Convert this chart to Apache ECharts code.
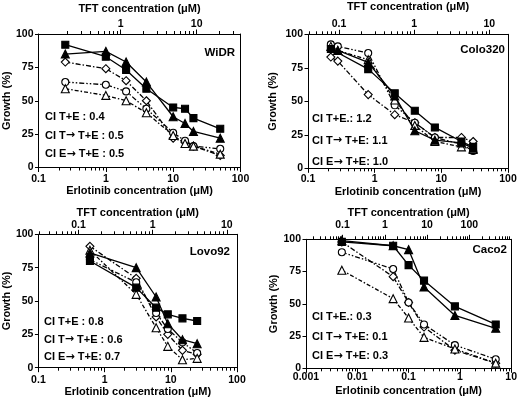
<!DOCTYPE html>
<html><head><meta charset="utf-8">
<script src="https://cdn.jsdelivr.net/npm/echarts@6/dist/echarts.min.js"></script>
<style>html,body{margin:0;padding:0;background:#fff}#c{width:520px;height:400px}</style>
</head><body><div id="c"></div>
<script>
// ---- WiDR ----
const widrX = [0.25, 1, 2, 4, 10, 15, 20, 50];
const widrSquares = [92, 83, 73, 59, 45, 44, 37, 29];
const widrTriangles = [85, 87, 79, 64, 38, 33, 27, 22];
const widrDiamonds = [79, 74, 65, 50, 22, 19, 16, 9];
const widrCircles = [64, 62, 57, 44, 26, 20, 16, 14];
const widrOpenTri = [59, 54, 50, 41, 24, 18, 16, 10];
// ---- Colo320 ----
const coloSqX = [0.22, 0.8, 2, 4, 8, 20, 30];
const coloSquares = [89, 74, 56, 43, 30.5, 20, 16];
const coloTriX = [0.28, 0.8, 2, 4, 8, 20, 30];
const coloTriangles = [88, 79, 54, 28, 21, 19, 15];
const coloOpenX = [0.22, 0.28, 0.8, 2, 4, 8, 20, 30];
const coloDiamonds = [83, 80, 55, 40, 34, 23, 23, 20];
const coloCircles = [92.5, 91, 86, 47, 34, 23, 18, 13];
const coloOpenTri = [91, 88, 81, 51, 32, 20, 16, 14];
// ---- Lovo92 ----
const lovoX = [0.6, 3, 6, 9, 15, 25];
const lovoSquares = [80, 60, 45, 40, 37, 35];
const lovoTriangles = [86, 75, 53, 33, 21, 18];
const lovoDiamonds = [91, 67, 38, 25, 13, 10];
const lovoCircles = [81, 64, 41, 29, 19, 11];
const lovoOpenTri = [88, 55, 30, 16, 6, 7];
// ---- Caco2 ----
const cacoX = [0.005, 0.05, 0.1, 0.2, 0.8, 5];
const cacoSquares = [98, 95, 80, 68, 48, 34];
const cacoTriangles = [99, 95, 92, 63, 41, 31];
const cacoCircles = [90, 77, 51, 34, 18, 7];
const cacoDiamonds = [98, 71, 51, 32, 14, 4];
const cacoOpenTri = [76, 54, 39, 24, 15, 4];

// tick labels
const widrBottomLabels = [0.1, 1, 10, 100];
const widrTopLabels = [1, 10];
const coloBottomLabels = [0.1, 1, 10, 100];
const coloTopLabels = [0.1, 1, 10];
const lovoBottomLabels = [0.1, 1, 10, 100];
const lovoTopLabels = [0.1, 1, 10];
const cacoBottomLabels = [0.001, 0.01, 0.1, 1, 10];
const cacoTopLabels = [0.1, 1, 10, 100];
const yTicks = [0, 25, 50, 75, 100];

const CI = {
  widr: ['CI T+E : 0.4', 'CI T{a|\u2192} T+E : 0.5', 'CI E{a|\u2192} T+E : 0.5'],
  colo: ['CI T+E.: 1.2', 'CI T{a|\u2192} T+E: 1.1', 'CI E{a|\u2192} T+E: 1.0'],
  lovo: ['CI T+E : 0.8', 'CI T{a|\u2192} T+E : 0.6', 'CI E{a|\u2192} T+E: 0.7'],
  caco: ['CI T+E.: 0.3', 'CI T{a|\u2192} T+E: 0.1', 'CI E{a|\u2192} T+E: 0.3']
};

const FONT = '"Liberation Sans", Arial, sans-serif';

function minorTicks(lo, hi) {
  const out = [];
  for (let e = -4; e <= 3; e++) for (let m = 2; m <= 9; m++) {
    const v = +(m * Math.pow(10, e)).toPrecision(6);
    if (v >= lo && v <= hi) out.push(v);
  }
  return out;
}
function majorTicks(lo, hi) {
  const out = [];
  for (let e = -4; e <= 3; e++) { const v = +Math.pow(10, e).toPrecision(6); if (v >= lo && v <= hi) out.push(v); }
  return out;
}

const panels = [
  { key: 'widr', name: 'WiDR', grid: { left: 38.5, top: 34, width: 202, height: 133.5 },
    bMin: 0.1, bMax: 100, bLabels: widrBottomLabels, bMargin: 6, bGap: 18,
    tMin: 0.0829, tMax: 37.7, tLabels: widrTopLabels, tTickLo: 0.2, tTickHi: 40, tMargin: 4, tGap: 20,
    yGap: 26, nameXY: [235, 53], ciXY: [45, 117, 18.5],
    series: [[widrX, widrSquares], [widrX, widrTriangles], [widrX, widrDiamonds], [widrX, widrCircles], [widrX, widrOpenTri]] },
  { key: 'colo', name: 'Colo320', grid: { left: 308, top: 34.3, width: 200, height: 134 },
    bMin: 0.1, bMax: 100, bLabels: coloBottomLabels, bMargin: 5, bGap: 18,
    tMin: 0.0387, tMax: 17.7, tLabels: coloTopLabels, tTickLo: 0.04, tTickHi: 10, tMargin: 5, tGap: 22,
    yGap: 30, nameXY: [505, 50], ciXY: [312, 119, 21.5],
    series: [[coloSqX, coloSquares], [coloTriX, coloTriangles], [coloOpenX, coloDiamonds], [coloOpenX, coloCircles], [coloOpenX, coloOpenTri]] },
  { key: 'lovo', name: 'Lovo92', grid: { left: 37, top: 234.3, width: 200, height: 133.4 },
    bMin: 0.1, bMax: 100, bLabels: lovoBottomLabels, bMargin: 7, bGap: 19,
    tMin: 0.0289, tMax: 13.7, tLabels: lovoTopLabels, tTickLo: 0.03, tTickHi: 10, tMargin: 3.5, tGap: 15,
    yGap: 26, nameXY: [230, 252], ciXY: [44, 322, 17.5],
    series: [[lovoX, lovoSquares], [lovoX, lovoTriangles], [lovoX, lovoDiamonds], [lovoX, lovoCircles], [lovoX, lovoOpenTri]] },
  { key: 'caco', name: 'Caco2', grid: { left: 306, top: 239.3, width: 206, height: 129 },
    bMin: 0.001, bMax: 10, bLabels: cacoBottomLabels, bMargin: 3, bGap: 17,
    tMin: 0.01364, tMax: 977, tLabels: cacoTopLabels, tTickLo: 0.02, tTickHi: 900, tMargin: 8.5, tGap: 21,
    yGap: 22, nameXY: [507, 250], ciXY: [312, 317, 19.7],
    series: [[cacoX, cacoSquares], [cacoX, cacoTriangles], [cacoX, cacoDiamonds], [cacoX, cacoCircles], [cacoX, cacoOpenTri]] }
];

const styles = [
  { symbol: 'rect', size: 7, filled: true, line: 'solid' },
  { symbol: 'triangle', size: 8, filled: true, line: 'solid' },
  { symbol: 'diamond', size: 8, filled: false, line: [5, 2, 1.5, 2] },
  { symbol: 'circle', size: 7, filled: false, line: [5, 2, 1.5, 2, 1.5, 2] },
  { symbol: 'triangle', size: 8, filled: false, line: [4, 2, 1.5, 2] }
];

const labelStyle = { color: '#000', fontSize: 10.5, fontWeight: 'bold', fontFamily: FONT };
const nameStyle = { color: '#000', fontSize: 11, fontWeight: 'bold', fontFamily: FONT };
const fmt = v => String(+(+v).toPrecision(6));

const grid = [], xAxis = [], yAxis = [], series = [], graphic = [];
panels.forEach((p, i) => {
  grid.push(Object.assign({ containLabel: false }, p.grid));
  const bMajor = majorTicks(p.bMin, p.bMax), bMinor = minorTicks(p.bMin, p.bMax);
  const tMajor = majorTicks(p.tTickLo, p.tTickHi), tMinor = minorTicks(p.tTickLo, p.tTickHi);
  // bottom major
  xAxis.push({ type: 'log', gridIndex: i, position: 'bottom', min: p.bMin, max: p.bMax, logBase: 10,
    axisLine: { show: true, lineStyle: { color: '#000', width: 1 } },
    axisTick: { show: true, inside: false, length: 4.5, customValues: bMajor, lineStyle: { color: '#000', width: 1 } },
    axisLabel: { show: true, customValues: p.bLabels, margin: p.bMargin, formatter: fmt, ...labelStyle, hideOverlap: false },
    splitLine: { show: false }, minorTick: { show: false },
    name: 'Erlotinib concentration (\u03bcM)', nameLocation: 'middle', nameGap: p.bGap, nameTextStyle: nameStyle });
  // bottom minor
  xAxis.push({ type: 'log', gridIndex: i, position: 'bottom', min: p.bMin, max: p.bMax, logBase: 10,
    axisLine: { show: false }, axisLabel: { show: false }, splitLine: { show: false },
    axisTick: { show: true, inside: false, length: 3, customValues: bMinor, lineStyle: { color: '#000', width: 1 } } });
  // top major
  xAxis.push({ type: 'log', gridIndex: i, position: 'top', min: p.tMin, max: p.tMax, logBase: 10,
    axisLine: { show: true, lineStyle: { color: '#000', width: 1 } },
    axisTick: { show: true, inside: false, length: 4.5, customValues: tMajor, lineStyle: { color: '#000', width: 1 } },
    axisLabel: { show: true, customValues: p.tLabels, margin: p.tMargin, formatter: fmt, ...labelStyle, hideOverlap: false },
    splitLine: { show: false },
    name: 'TFT concentration (\u03bcM)', nameLocation: 'middle', nameGap: p.tGap, nameTextStyle: nameStyle });
  // top minor
  xAxis.push({ type: 'log', gridIndex: i, position: 'top', min: p.tMin, max: p.tMax, logBase: 10,
    axisLine: { show: false }, axisLabel: { show: false }, splitLine: { show: false },
    axisTick: { show: true, inside: false, length: 3, customValues: tMinor, lineStyle: { color: '#000', width: 1 } } });
  yAxis.push({ type: 'value', gridIndex: i, position: 'left', min: 0, max: 100, interval: 25,
    axisLine: { show: true, lineStyle: { color: '#000', width: 1 } },
    axisTick: { show: true, inside: false, length: 3.5, lineStyle: { color: '#000' } },
    axisLabel: { show: true, margin: 5, customValues: yTicks, ...labelStyle },
    splitLine: { show: false },
    name: 'Growth (%)', nameLocation: 'middle', nameGap: p.yGap, nameRotate: 90, nameTextStyle: nameStyle });
  yAxis.push({ type: 'value', gridIndex: i, position: 'right', min: 0, max: 100, interval: 25,
    axisLine: { show: true, lineStyle: { color: '#000', width: 1 } },
    axisTick: { show: false }, axisLabel: { show: false }, splitLine: { show: false } });

  p.series.forEach(([xs, ys], k) => {
    const s = styles[k];
    series.push({
      type: 'line', xAxisIndex: 4 * i, yAxisIndex: 2 * i,
      data: xs.map((x, j) => [x, ys[j]]),
      symbol: s.symbol, symbolSize: s.size, showAllSymbol: true,
      lineStyle: { color: '#000', width: 1.3, type: s.line },
      itemStyle: { color: s.filled ? '#000' : '#fff', borderColor: '#000', borderWidth: 1.1 },
      z: s.filled ? 3 : 2, animation: false, silent: true
    });
  });

  graphic.push({ type: 'text', x: p.nameXY[0], y: p.nameXY[1],
    style: { text: p.name, align: 'right', verticalAlign: 'middle', fill: '#000', fontSize: 11.5, fontWeight: 'bold', fontFamily: FONT } });
  CI[p.key].forEach((t, k) => {
    graphic.push({ type: 'text', x: p.ciXY[0], y: p.ciXY[1] + k * p.ciXY[2],
      style: { text: t, align: 'left', verticalAlign: 'middle', fill: '#000', fontSize: 11, fontWeight: 'bold', fontFamily: FONT,
        rich: { a: { fontFamily: '"DejaVu Sans", sans-serif', fontWeight: 'bold', fontSize: 11, fill: '#000' } } } });
  });
});

const chart = echarts.init(document.getElementById('c'), null, { renderer: 'canvas' });
chart.setOption({ animation: false, backgroundColor: '#fff', grid, xAxis, yAxis, series, graphic });
</script></body></html>
